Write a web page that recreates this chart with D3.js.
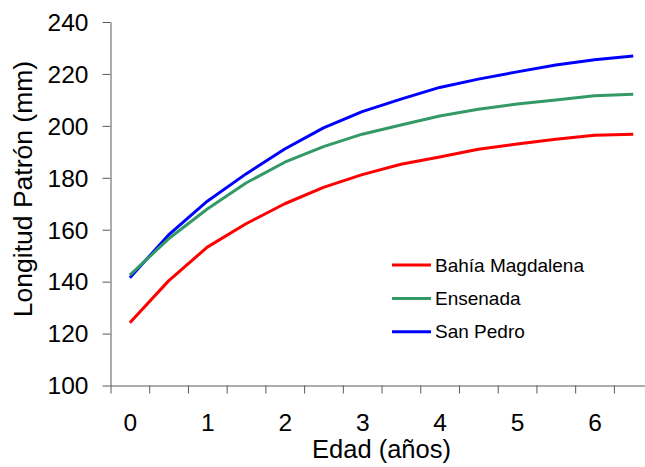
<!DOCTYPE html>
<html>
<head>
<meta charset="utf-8">
<script src="https://cdn.jsdelivr.net/npm/d3@7"></script>
<style>
  body { margin: 0; background: #fff; }
  svg text { font-family: Arial, "Liberation Sans", sans-serif; fill: #000; }
</style>
</head>
<body>
<svg id="chart" width="645" height="467"></svg>
<script>
// ages (years) and standard length (mm) per locality
const ages = [0, 0.5, 1, 1.5, 2, 2.5, 3, 3.5, 4, 4.5, 5, 5.5, 6, 6.5];
const bahiaMagdalena = [124.2, 140.3, 153.3, 162.3, 170, 176.3, 181.2, 185.2, 188, 191, 193, 194.8, 196.4, 196.8];
const ensenada = [142.5, 156.5, 168, 178, 186, 192, 196.8, 200.3, 203.8, 206.4, 208.4, 210, 211.6, 212.2];
const sanPedro = [141.5, 158, 171, 181.5, 191.1, 199.2, 205.5, 210.3, 214.8, 218, 220.8, 223.4, 225.5, 226.9];

const seriesNames = ["Bahía Magdalena", "Ensenada", "San Pedro"];
const seriesColors = ["#ff0000", "#339966", "#0000ff"];
const yTicks = [100, 120, 140, 160, 180, 200, 220, 240];
const xLabels = [0, 1, 2, 3, 4, 5, 6];
const xTickMarks = [-0.25, 0.25, 0.75, 1.25, 1.75, 2.25, 2.75, 3.25, 3.75, 4.25, 4.75, 5.25, 5.75, 6.25, 6.75];

const svg = d3.select("#chart");

var x = d3.scaleLinear().domain([-0.25, 6.75]).range([110.5, 652.6]);
var y = d3.scaleLinear().domain([100, 240]).range([385.5, 22]);

// y axis
var yAxis = svg.append("g")
  .attr("transform", "translate(110.5,0)")
  .call(d3.axisLeft(y).tickValues(yTicks).tickSize(8).tickSizeOuter(0).tickPadding(14));
yAxis.selectAll("text").style("font-size", "24.5px").attr("dy", "0.34em");

// x axis: tick marks between categories, labels on whole years
var xAxis = svg.append("g")
  .attr("transform", "translate(0,385.5)")
  .call(d3.axisBottom(x).tickValues(xTickMarks).tickSize(8).tickSizeOuter(0).tickFormat(""));

var xLab = svg.append("g")
  .attr("transform", "translate(0,385.5)")
  .call(d3.axisBottom(x).tickValues(xLabels).tickSize(0).tickPadding(28).tickFormat(d3.format("d")));
xLab.select(".domain").remove();
xLab.selectAll("text").style("font-size", "24.5px");

svg.selectAll(".domain, .tick line").attr("stroke", "#5a5a5a");

// lines
var line = d3.line()
  .x((d, i) => x(ages[i]))
  .y((d) => y(d));

var allSeries = [bahiaMagdalena, ensenada, sanPedro];
// draw San Pedro first so the others sit on top where they cross
[2, 1, 0].forEach(function (k) {
  svg.append("path")
    .datum(allSeries[k])
    .attr("fill", "none")
    .attr("stroke", seriesColors[k])
    .attr("stroke-width", 3)
    .attr("stroke-linejoin", "round")
    .attr("d", line);
});

// legend
var legend = svg.append("g").attr("transform", "translate(392,265)");
seriesNames.forEach(function (name, i) {
  var row = legend.append("g").attr("transform", "translate(0," + i * 33.4 + ")");
  row.append("line")
    .attr("x1", 0).attr("x2", 39)
    .attr("stroke", seriesColors[i])
    .attr("stroke-width", 3);
  row.append("text")
    .attr("x", 43)
    .attr("y", 6.5)
    .style("font-size", "19px")
    .text(name);
});

// axis titles
svg.append("text")
  .attr("x", 381.5)
  .attr("y", 458)
  .attr("text-anchor", "middle")
  .style("font-size", "25.5px")
  .text("Edad (años)");

svg.append("text")
  .attr("transform", "translate(32,189) rotate(-90)")
  .attr("text-anchor", "middle")
  .style("font-size", "26.5px")
  .text("Longitud Patrón (mm)");
</script>
</body>
</html>
